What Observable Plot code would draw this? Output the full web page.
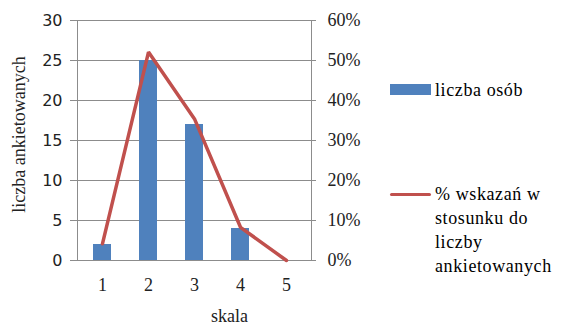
<!DOCTYPE html>
<html>
<head>
<meta charset="utf-8">
<script src="https://cdn.jsdelivr.net/npm/d3@7"></script>
<script src="https://cdn.jsdelivr.net/npm/@observablehq/plot@0.6"></script>
<style>
  html, body { margin: 0; padding: 0; background: #fff; }
  #chart { position: relative; width: 564px; height: 326px; overflow: hidden; }
  .legend { position: absolute; font-family: "Liberation Serif", "Times New Roman", serif; font-size: 18px; letter-spacing: 0.6px; color: #000; }
  .legend .row { position: absolute; left: 0; display: flex; align-items: flex-start; white-space: nowrap; }
  .legend .swatch-bar { width: 41px; height: 11px; background: #4F81BD; margin-right: 4px; }
  .legend .swatch-line { width: 41px; height: 3px; background: #C0504D; border-radius: 2px; margin-right: 4px; }
  .legend .txt { line-height: 24px; }
</style>
</head>
<body>
<div id="chart"></div>
<script>
// Survey answers on a 1–5 scale
const categories = ["1", "2", "3", "4", "5"];
const counts = [2, 25, 17, 4, 0];            // liczba osób
const percents = [4.2, 52.1, 35.4, 8.3, 0];  // % wskazań w stosunku do liczby ankietowanych
const countTicks = [0, 5, 10, 15, 20, 25, 30];
const percentTicks = [0, 10, 20, 30, 40, 50, 60];

const countMax = 30;
const percentMax = 60;
const toCount = p => p * countMax / percentMax;

const rows = categories.map((c, i) => ({c, n: counts[i], p: percents[i]}));

const gridColor = "#8c8c8c";
const serif = "Liberation Serif, Times New Roman, serif";

const plot = Plot.plot({
  width: 564,
  height: 326,
  marginLeft: 77,
  marginRight: 253,
  marginTop: 20,
  marginBottom: 66,
  style: {background: "#fff", overflow: "visible"},
  x: {domain: categories, paddingInner: 0.6, paddingOuter: 0.3},
  y: {domain: [0, countMax]},
  marks: [
    Plot.ruleY(countTicks, {stroke: gridColor, strokeWidth: 1, insetLeft: -7, insetRight: -5}),
    Plot.frame({stroke: gridColor}),
    Plot.barY(rows, {x: "c", y: "n", fill: "#4F81BD"}),
    Plot.lineY(rows, {x: "c", y: d => toCount(d.p), stroke: "#C0504D", strokeWidth: 3.5, strokeLinejoin: "miter"}),
    Plot.axisY(countTicks, {anchor: "left", tickSize: 0, tickPadding: 15, fontFamily: "DejaVu Sans, sans-serif", fontSize: 16, fill: "#222", label: null}),
    Plot.axisY(percentTicks.map(toCount), {anchor: "right", tickSize: 0, tickPadding: 16, tickFormat: v => `${Math.round(v * percentMax / countMax)}%`, fontFamily: serif, fontSize: 18, fill: "#222", label: null}),
    Plot.axisX({tickSize: 0, tickPadding: 18, fontFamily: serif, fontSize: 18, fill: "#222", label: null}),
    Plot.text(["liczba ankietowanych"], {frameAnchor: "left", textAnchor: "middle", rotate: -90, dx: -58, dy: -6, fontFamily: serif, fontSize: 18, fill: "#222", style: "letter-spacing:0.4px"}),
    Plot.text(["skala"], {frameAnchor: "bottom", textAnchor: "middle", dx: 35, dy: 61, fontFamily: serif, fontSize: 18, fill: "#222"})
  ]
});

const chart = document.getElementById("chart");
chart.appendChild(plot);

// Legend to the right of the plot area
const legend = document.createElement("div");
legend.className = "legend";
legend.style.left = "390px";
legend.style.top = "0px";
legend.innerHTML = `
  <div class="row" style="top:78px"><div class="swatch-bar" style="margin-top:6px"></div><div class="txt">liczba osób</div></div>
  <div class="row" style="top:182px"><div class="swatch-line" style="margin-top:11px"></div><div class="txt">% wskazań w<br>stosunku do<br>liczby<br>ankietowanych</div></div>
`;
chart.appendChild(legend);
</script>
</body>
</html>
